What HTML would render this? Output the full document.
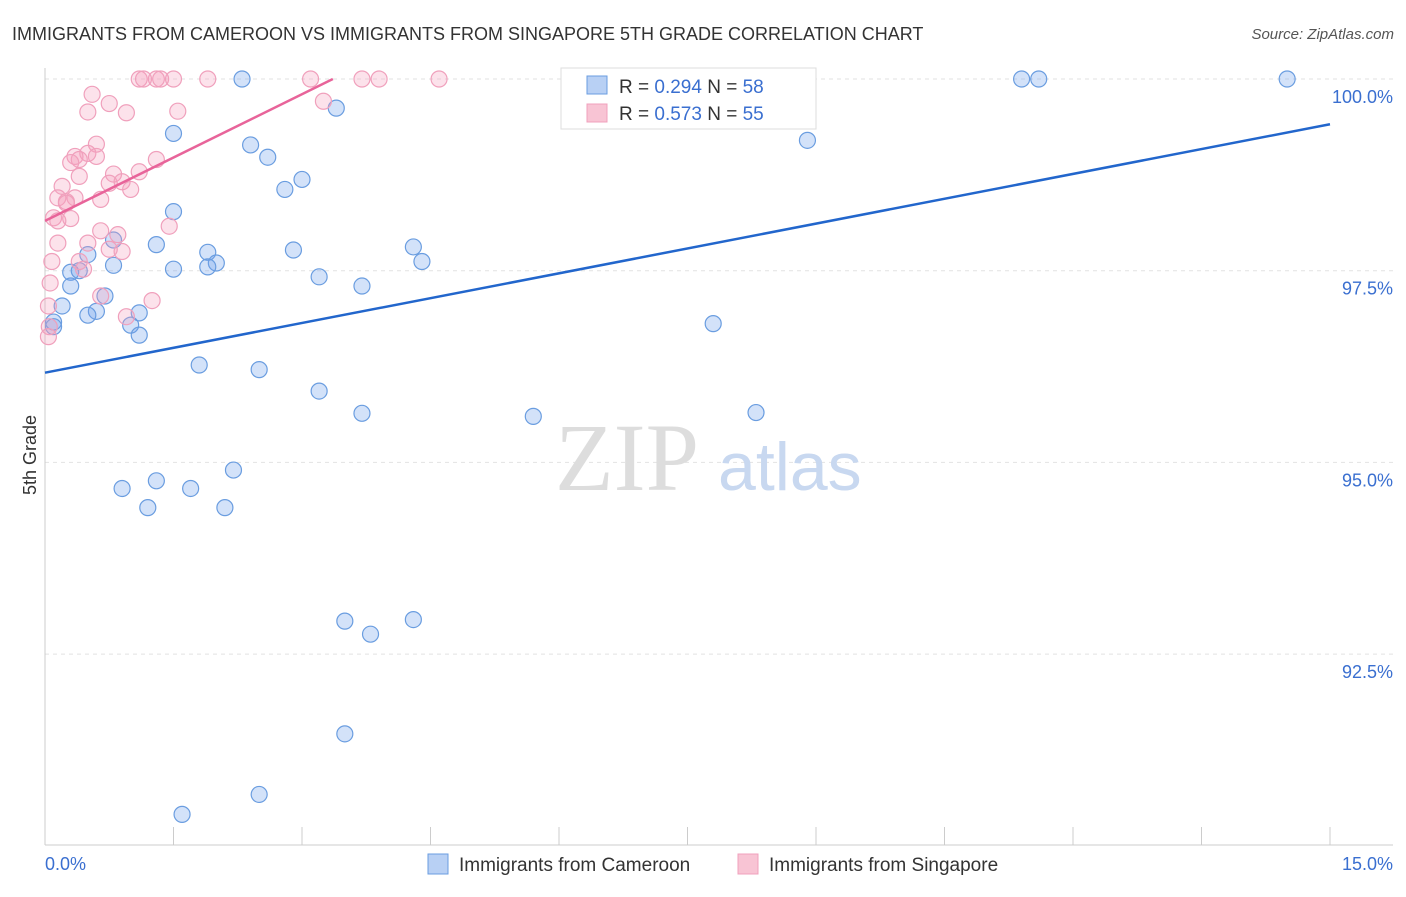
<!DOCTYPE html>
<html><head><meta charset="utf-8"><style>
body{margin:0;background:#fff;font-family:"Liberation Sans",sans-serif}
</style></head><body>
<svg id="c" width="1406" height="892" xmlns="http://www.w3.org/2000/svg">
<text x="12" y="40" font-size="18" fill="#333">IMMIGRANTS FROM CAMEROON VS IMMIGRANTS FROM SINGAPORE 5TH GRADE CORRELATION CHART</text>
<text x="1394" y="39" font-size="15" fill="#555" font-style="italic" text-anchor="end">Source: ZipAtlas.com</text>
<text x="36" y="455" font-size="18" fill="#333" transform="rotate(-90 36 455)" text-anchor="middle">5th Grade</text>
<g id="grid"></g>
<text x="555" y="490" font-size="96" fill="#ddd" font-family="Liberation Serif">ZIP</text>
<text x="718" y="490" font-size="68" fill="#c8d8f0">atlas</text>
<g id="pts"></g>
<g id="lines"></g>
<g>
<rect x="561" y="68" width="255" height="61" fill="#fff" stroke="#ddd"/>
<rect x="587" y="76" width="20" height="18" fill="#b8d0f4" stroke="#6a9de0"/>
<rect x="587" y="104" width="20" height="18" fill="#f8c4d4" stroke="#f0a0bc"/>
<text x="619" y="93" font-size="19" fill="#333">R = <tspan fill="#3a6fd0">0.294</tspan>   N = <tspan fill="#3a6fd0">58</tspan></text>
<text x="619" y="120" font-size="19" fill="#333">R = <tspan fill="#3a6fd0">0.573</tspan>   N = <tspan fill="#3a6fd0">55</tspan></text>
</g>
<g>
<rect x="428" y="854" width="20" height="20" fill="#b8d0f4" stroke="#6a9de0"/>
<text x="459" y="871" font-size="19" fill="#333">Immigrants from Cameroon</text>
<rect x="738" y="854" width="20" height="20" fill="#f8c4d4" stroke="#f0a0bc"/>
<text x="769" y="871" font-size="19" fill="#333">Immigrants from Singapore</text>
</g>
<text x="45" y="870" font-size="18" fill="#3a6fd0">0.0%</text>
<text x="1393" y="870" font-size="18" fill="#3a6fd0" text-anchor="end">15.0%</text>
</svg>
<script>
const yTicks=[100,97.5,95,92.5];
const yTickLabels=["100.0%","97.5%","95.0%","92.5%"];
const xTicks=[0,1.5,3,4.5,6,7.5,9,10.5,12,13.5,15];
const camX=[2.3,6.7,8.6,11.4,11.6,14.5,3.4,1.5,2.4,2.6,8.9,3.0,2.8,1.5,0.8,1.3,2.9,1.9,4.3,0.5,2.0,1.9,4.4,0.8,1.5,0.3,0.4,3.2,3.7,0.3,0.7,0.2,0.6,0.5,1.1,0.1,0.1,1.0,1.1,7.8,1.8,2.5,3.2,3.7,5.7,8.3,2.2,1.3,0.9,1.7,1.2,2.1,3.5,4.3,3.8,3.5,2.5,1.6];
const camY=[100,100,100,100,100,100,99.62,99.29,99.14,98.98,99.2,98.69,98.56,98.27,97.9,97.84,97.77,97.74,97.81,97.71,97.6,97.55,97.62,97.57,97.52,97.48,97.5,97.42,97.3,97.3,97.17,97.04,96.97,96.92,96.95,96.83,96.77,96.79,96.66,96.81,96.27,96.21,95.93,95.64,95.6,95.65,94.9,94.76,94.66,94.66,94.41,94.41,92.93,92.95,92.76,91.46,90.67,90.41];
const sinX=[1.3,1.1,1.15,1.35,1.5,1.9,3.1,3.7,3.9,4.6,0.55,0.75,3.25,0.5,0.95,1.55,0.6,0.5,0.35,0.6,0.4,0.3,1.3,0.4,0.8,1.1,0.2,0.75,0.9,1.0,0.15,0.35,0.25,0.65,0.25,0.1,0.3,0.15,1.45,0.65,0.85,0.5,0.15,0.75,0.9,0.08,0.4,0.45,0.65,1.25,0.06,0.95,0.04,0.05,0.04];
const sinY=[100,100,100,100,100,100,100,100,100,100,99.8,99.68,99.71,99.57,99.56,99.58,99.15,99.03,98.99,98.99,98.95,98.91,98.95,98.73,98.76,98.79,98.6,98.64,98.66,98.56,98.45,98.45,98.4,98.43,98.38,98.19,98.18,98.15,98.08,98.02,97.97,97.86,97.86,97.78,97.75,97.62,97.62,97.52,97.17,97.11,97.34,96.9,97.04,96.77,96.64];
const camLine=[[0,96.17],[15,99.41]];
const sinLine=[[0,98.15],[3.36,100]];
const NS="http://www.w3.org/2000/svg";
const X=v=>45+v*(1285/15), Y=v=>79+(100-v)*(191.7/2.5);
function mk(t,a,p){const e=document.createElementNS(NS,t);for(const k in a)e.setAttribute(k,a[k]);p.appendChild(e);return e;}
const grid=document.getElementById('grid');
yTicks.forEach((t,i)=>{
 const l=mk('line',{x1:45,x2:1393,y1:Y(t),y2:Y(t),stroke:'#e2e2e2','stroke-dasharray':'4,4'},grid);
 
 
 const tx=mk('text',{x:1393,y:Y(t)+24,'font-size':18,fill:'#3a6fd0','text-anchor':'end'},grid);
 tx.textContent=yTickLabels[i];
 
 
});
const ax=mk('line',{x1:45,x2:45,y1:68,y2:845,stroke:'#ccc'},grid);


const bx=mk('line',{x1:45,x2:1393,y1:845,y2:845,stroke:'#ccc'},grid);


xTicks.forEach(t=>{const l=mk('line',{x1:X(t),x2:X(t),y1:827,y2:845,stroke:'#ccc'},grid);
 
 });
const pts=document.getElementById('pts');
camX.forEach((v,i)=>{const c=mk('circle',{cx:X(v),cy:Y(camY[i]),r:8,fill:'rgba(110,160,235,0.3)',stroke:'#6a9de0','stroke-width':1.2},pts);
 
 });
sinX.forEach((v,i)=>{const c=mk('circle',{cx:X(v),cy:Y(sinY[i]),r:8,fill:'rgba(245,160,190,0.3)',stroke:'#f0a0bc','stroke-width':1.2},pts);
 
 });
const lines=document.getElementById('lines');
const l1=mk('line',{x1:X(camLine[0][0]),y1:Y(camLine[0][1]),x2:X(camLine[1][0]),y2:Y(camLine[1][1]),stroke:'#2266cc','stroke-width':2.5},lines);


const l2=mk('line',{x1:X(sinLine[0][0]),y1:Y(sinLine[0][1]),x2:X(sinLine[1][0]),y2:Y(sinLine[1][1]),stroke:'#e8649a','stroke-width':2.5},lines);


</script>
</body></html>
